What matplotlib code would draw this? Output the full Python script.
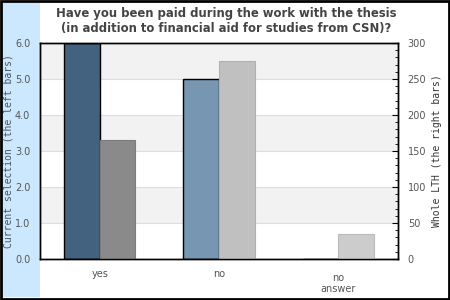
import numpy as np
from matplotlib import pyplot as plt
from matplotlib.patches import Rectangle
from matplotlib.ticker import MultipleLocator
import matplotlib.transforms as mtransforms

# data
categories = ["yes", "no", "no\nanswer"]
current_selection = [6.0, 5.0, 0.0]     # left bars, left axis
whole_lth = [165, 275, 35]              # right bars, right axis

left_colors = ["#42627f", "#7796b1", "#9fb8cc"]
right_colors = ["#8a8a8a", "#c0c0c0", "#cccccc"]
right_edges = ["#7c7c7c", "#b0b0b0", "#bbbbbb"]

fig = plt.figure(figsize=(4.5, 3), dpi=100)

# light blue strip on the left and a black frame
fig.patches.append(Rectangle((3 / 450, 3 / 300), 37 / 450, 294 / 300,
                             transform=fig.transFigure, facecolor="#cce8ff",
                             edgecolor="none", zorder=-1))
fig.patches.append(Rectangle((0.002, 0.003), 0.996, 0.994,
                             transform=fig.transFigure, facecolor="none",
                             edgecolor="black", linewidth=2, zorder=10))

ax = fig.add_axes([40 / 450, 41 / 300, 358 / 450, 216 / 300])
ax2 = ax.twinx()

x = np.arange(len(categories))
w = 0.3

# alternating bands + grid
for lo in [1, 3, 5]:
    ax.axhspan(lo, lo + 1, color="#f2f2f2", zorder=0, linewidth=0)
for g in [1, 2, 3, 4, 5]:
    ax.axhline(g, color="#dddddd", linewidth=0.8, zorder=0.5)

ax.bar(x - w / 2, current_selection, width=w, color=left_colors,
       edgecolor="black", linewidth=1, zorder=2)
ax2.bar(x + w / 2, whole_lth, width=w, color=right_colors,
        edgecolor=right_edges, linewidth=0.8, zorder=2)

ax.set_xlim(-0.5, 2.5)
ax.set_ylim(0, 6)
ax2.set_ylim(0, 300)

ax.set_yticks(np.arange(0, 7, 1))
ax.set_yticklabels([f"{v:.1f}" for v in np.arange(0, 7, 1)])
ax.tick_params(axis="y", length=0, pad=7, labelsize=7, labelcolor="#555555")
ax.set_xticks(x)
ax.set_xticklabels(categories, fontsize=7, color="#555555", linespacing=1.1)
ax.tick_params(axis="x", length=0, pad=7)

offset = mtransforms.ScaledTranslation(0, -3 / 72, fig.dpi_scale_trans)
lab = ax.get_xticklabels()[2]
lab.set_transform(lab.get_transform() + offset)

ax2.yaxis.set_major_locator(MultipleLocator(50))
ax2.yaxis.set_minor_locator(MultipleLocator(10))
ax2.tick_params(axis="y", which="major", direction="in", length=4, pad=7,
                labelsize=7, labelcolor="#555555")
ax2.tick_params(axis="y", which="minor", direction="in", length=2.5)

ax.set_ylabel("Current selection (the left bars)", family="DejaVu Sans Mono",
              fontsize=7, color="#4a5563")
ax.yaxis.set_label_coords(-0.074, 0.5)
ax2.set_ylabel("Whole LTH (the right bars)", family="DejaVu Sans Mono",
               fontsize=7, color="#333333")
ax2.yaxis.set_label_coords(1.095, 0.5)

for sp in list(ax.spines.values()) + list(ax2.spines.values()):
    sp.set_linewidth(1)

fig.text(0.502, 0.976, "Have you been paid during the work with the thesis\n"
         "(in addition to financial aid for studies from CSN)?",
         ha="center", va="top", fontsize=8.4, fontweight="bold",
         color="#444444", linespacing=1.2)

fig.savefig("out.png", dpi=100)
